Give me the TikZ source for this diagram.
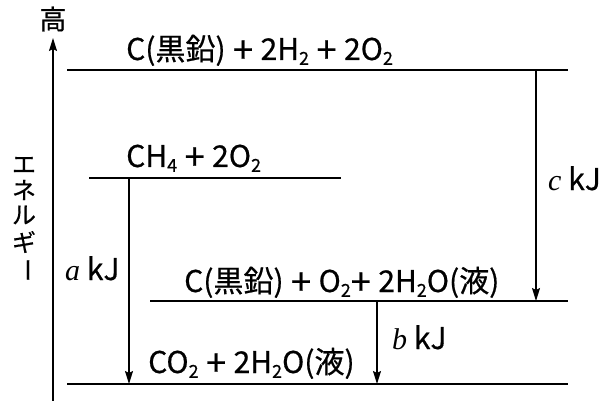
\documentclass[tikz,border=0pt]{standalone}
\usepackage{fontspec}
\setmainfont{Noto Sans CJK JP}[FakeBold=0.6]
\newfontfamily\serifit{Liberation Serif}
\usetikzlibrary{arrows.meta}
\newcommand\subs[1]{\raisebox{-0.3ex}{\fontsize{18}{18}\selectfont#1}}
\newcommand\bigplus{{\fontsize{36}{36}\selectfont\raisebox{-0.08em}{+}}}
\newcommand\pl{\hspace{0.25em}\bigplus\hspace{0.25em}}
\begin{document}
\begin{tikzpicture}[x=1pt,y=-1pt,
  lvl/.style={line width=1.4pt},
  arr/.style={line width=1.4pt,-{Stealth[length=13pt,width=8pt,inset=2pt]}},
  lbl/.style={font=\fontsize{30}{30}\selectfont, inner sep=0pt, anchor=base west},
  vch/.style={font=\fontsize{24}{24}\selectfont, inner sep=0pt, anchor=center}]
\useasboundingbox (0,0) rectangle (600,401);
% axis
\coordinate (ax0) at (53,401);
\coordinate (ax1) at (53,38);
\draw[arr] (ax0) -- (ax1);
\node[vch,font=\fontsize{27}{27}\selectfont] (high) at (53,19) {高};
\node[vch] (e1) at (24,165) {エ};
\node[vch] (e2) at (24,190) {ネ};
\node[vch] (e3) at (24,215) {ル};
\node[vch] (e4) at (24,242) {ギ};
\node[vch,rotate=-90] (e5) at (24,270) {ー};
% levels
\coordinate (t0) at (67,70);   \coordinate (t1) at (568,70);
\coordinate (m0) at (89,178);  \coordinate (m1) at (341,178);
\coordinate (g0) at (150,301); \coordinate (g1) at (568,301);
\coordinate (b0) at (67,384);  \coordinate (b1) at (568,384);
\draw[lvl] (t0) -- (t1);
\draw[lvl] (m0) -- (m1);
\draw[lvl] (g0) -- (g1);
\draw[lvl] (b0) -- (b1);
% arrows
\coordinate (aS) at (129,178); \coordinate (aE) at (129,384);
\coordinate (bS) at (377,301); \coordinate (bE) at (377,384);
\coordinate (cS) at (536,70);  \coordinate (cE) at (536,301);
\draw[arr] (aS) -- (aE);
\draw[arr] (bS) -- (bE);
\draw[arr] (cS) -- (cE);
% labels
\node[lbl] (lt) at (126,60) {C(黒鉛)\pl 2H\subs{2}\pl 2O\subs{2}};
\node[lbl] (lm) at (126,167) {CH\subs{4}\pl 2O\subs{2}};
\node[lbl] (lg) at (184,292) {C(黒鉛)\pl O\subs{2}\bigplus\hspace{0.25em}2H\subs{2}O(液)};
\node[lbl] (lb) at (148,373) {CO\subs{2}\pl 2H\subs{2}O(液)};
\node[lbl] (la) at (65,280) {{\serifit\itshape a} kJ};
\node[lbl] (lbk) at (392,349) {{\serifit\itshape b} kJ};
\node[lbl] (lc) at (548,190) {{\serifit\itshape c} kJ};
\end{tikzpicture}
\end{document}
